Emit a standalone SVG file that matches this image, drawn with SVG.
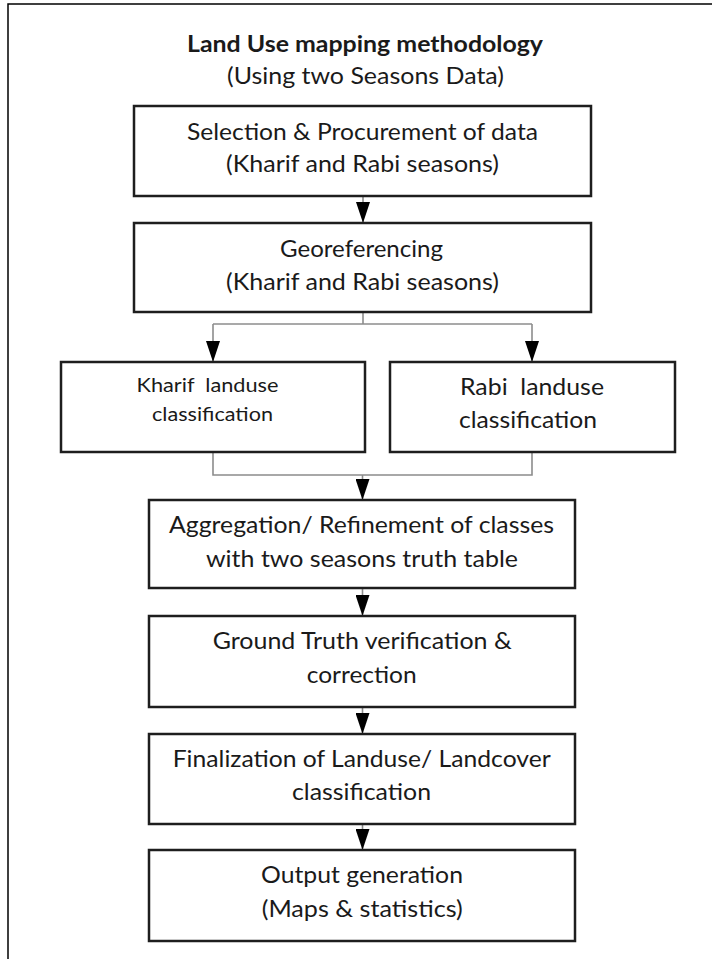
<svg xmlns="http://www.w3.org/2000/svg" width="712" height="959" viewBox="0 0 712 959">
<defs>
<style>
.box{fill:#fff;stroke:#1e1e1e;stroke-width:2.5}
.t{font-family:Lato,"Open Sans","Liberation Sans",sans-serif;font-size:23.5px;fill:#1a1a1a}
.tb{font-weight:bold}
.ts{font-size:19.5px}
.c{fill:none;stroke:#8c8c8c;stroke-width:1.6}
.frame{fill:none;stroke:#000;stroke-width:1.5}
</style>
<marker id="ah" markerUnits="userSpaceOnUse" markerWidth="21" markerHeight="14" refX="21" refY="7" orient="auto">
<path d="M0,0 L21,7 L0,14 z" fill="#000"/>
</marker>
</defs>
<rect width="712" height="959" fill="#fff"/>
<path class="frame" d="M8,959 V4 H712"/>
<g id="title">
<text class="t tb" x="187" y="52" textLength="356" lengthAdjust="spacingAndGlyphs">Land Use mapping methodology</text>
<text class="t" x="227" y="84" textLength="277" lengthAdjust="spacingAndGlyphs">(Using two Seasons Data)</text>
</g>
<g id="connectors">
<path class="c" d="M363,196 V223" marker-end="url(#ah)"/>
<path class="c" d="M363,312 V324"/>
<path class="c" d="M213,324 H532"/>
<path class="c" d="M213,324 V362" marker-end="url(#ah)"/>
<path class="c" d="M532,324 V362" marker-end="url(#ah)"/>
<path class="c" d="M213,452 V475 H532 V452"/>
<path class="c" d="M362.5,475 V500" marker-end="url(#ah)"/>
<path class="c" d="M362.5,588 V616" marker-end="url(#ah)"/>
<path class="c" d="M362.5,707 V734" marker-end="url(#ah)"/>
<path class="c" d="M362.5,824 V850" marker-end="url(#ah)"/>
</g>
<g id="n1">
<rect class="box" x="134" y="106" width="457" height="90"/>
<text class="t" x="187" y="139.5" textLength="351" lengthAdjust="spacingAndGlyphs">Selection &amp; Procurement of data</text>
<text class="t" x="226" y="171.5" textLength="273" lengthAdjust="spacingAndGlyphs">(Kharif and Rabi seasons)</text>
</g>
<g id="n2">
<rect class="box" x="134" y="223" width="457" height="89"/>
<text class="t" x="280" y="257" textLength="163" lengthAdjust="spacingAndGlyphs">Georeferencing</text>
<text class="t" x="226" y="290" textLength="273" lengthAdjust="spacingAndGlyphs">(Kharif and Rabi seasons)</text>
</g>
<g id="n3">
<rect class="box" x="61" y="362" width="304" height="90"/>
<text class="t ts" x="136.5" y="391.5" textLength="142" lengthAdjust="spacingAndGlyphs" xml:space="preserve">Kharif  landuse</text>
<text class="t ts" x="152" y="420.5" textLength="121" lengthAdjust="spacingAndGlyphs">classification</text>
</g>
<g id="n4">
<rect class="box" x="390" y="362" width="285" height="90"/>
<text class="t" x="460" y="395" textLength="144" lengthAdjust="spacingAndGlyphs" xml:space="preserve">Rabi  landuse</text>
<text class="t" x="459" y="428" textLength="138" lengthAdjust="spacingAndGlyphs">classification</text>
</g>
<g id="n5">
<rect class="box" x="149" y="500" width="426" height="88"/>
<text class="t" x="169" y="532.7" textLength="385" lengthAdjust="spacingAndGlyphs">Aggregation/ Refinement of classes</text>
<text class="t" x="206" y="566.7" textLength="312" lengthAdjust="spacingAndGlyphs">with two seasons truth table</text>
</g>
<g id="n6">
<rect class="box" x="149" y="616" width="426" height="91"/>
<text class="t" x="212.7" y="649" textLength="299" lengthAdjust="spacingAndGlyphs">Ground Truth verification &amp;</text>
<text class="t" x="306.7" y="683" textLength="110" lengthAdjust="spacingAndGlyphs">correction</text>
</g>
<g id="n7">
<rect class="box" x="149" y="734" width="426" height="90"/>
<text class="t" x="172.7" y="766.7" textLength="378" lengthAdjust="spacingAndGlyphs">Finalization of Landuse/ Landcover</text>
<text class="t" x="292" y="800" textLength="139" lengthAdjust="spacingAndGlyphs">classification</text>
</g>
<g id="n8">
<rect class="box" x="149" y="850" width="426" height="91"/>
<text class="t" x="261" y="883" textLength="202" lengthAdjust="spacingAndGlyphs">Output generation</text>
<text class="t" x="261.7" y="916.7" textLength="201" lengthAdjust="spacingAndGlyphs">(Maps &amp; statistics)</text>
</g>
</svg>
